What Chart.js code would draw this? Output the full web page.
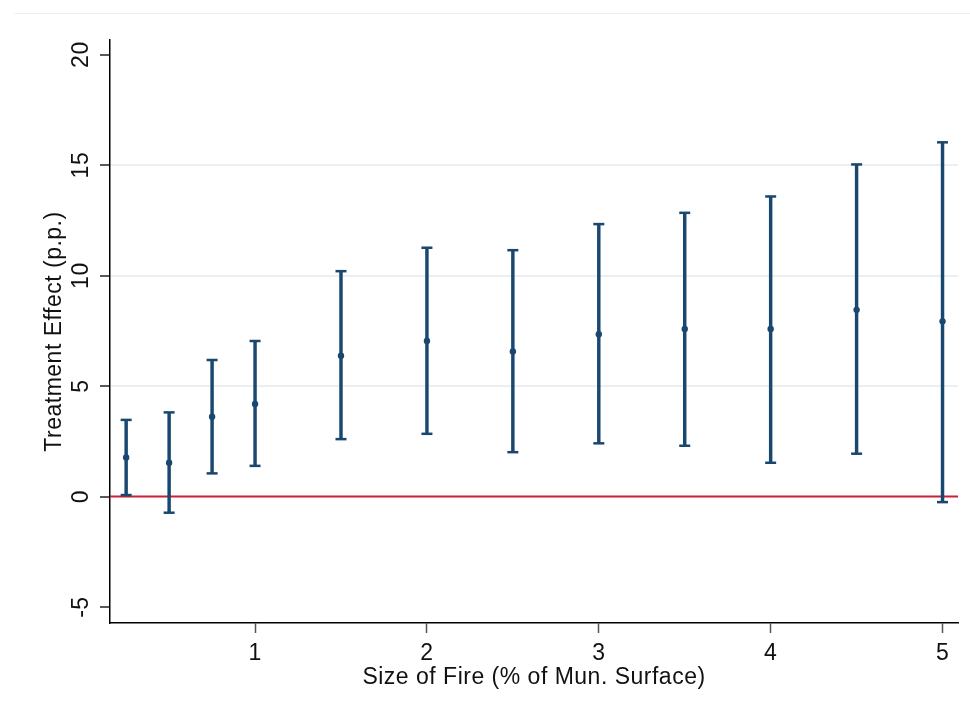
<!DOCTYPE html>
<html>
<head>
<meta charset="utf-8">
<script src="https://cdn.jsdelivr.net/npm/chart.js@4/dist/chart.umd.min.js"></script>
<style>
  html, body { margin: 0; padding: 0; background: #ffffff; }
  #wrap { width: 970px; height: 711px; position: relative; }
</style>
</head>
<body>
<div id="wrap"><canvas id="chart" width="970" height="711"></canvas></div>
<script>
// Fire size (% of municipal surface) and estimated treatment effects with 95% CIs
const sizes    = [0.25, 0.5, 0.75, 1, 1.5, 2, 2.5, 3, 3.5, 4, 4.5, 5];
const estimate = [1.77, 1.53, 3.61, 4.19, 6.37, 7.04, 6.57, 7.35, 7.58, 7.58, 8.45, 7.93];
const ciLower  = [0.07, -0.73, 1.05, 1.39, 2.60, 2.84, 2.01, 2.41, 2.30, 1.53, 1.94, -0.25];
const ciUpper  = [3.47, 3.81, 6.18, 7.04, 10.20, 11.26, 11.15, 12.33, 12.84, 13.58, 15.03, 16.03];

const xTicks = [1, 2, 3, 4, 5];
const yTicks = [-5, 0, 5, 10, 15, 20];
const gridValues = [5, 10, 15];
const xRange = [0.156, 5.09];
const yRange = [-5.72, 20.66];

const NAVY = '#1a476f';
const RED = '#c91f37';
const GRID = '#eaf0f2';
const FONT = '"Liberation Sans", Arial, sans-serif';
const TEXT_SIZE = 23;

// slightly open letter spacing for all chart text
const spacing = {
  id: 'spacing',
  beforeLayout(chart) { chart.ctx.letterSpacing = '0.5px'; },
  beforeDraw(chart) { chart.ctx.letterSpacing = '0.5px'; }
};

// rotated y tick labels and the faint outer frame line
const decor = {
  id: 'decor',
  beforeDraw(chart) {
    const ctx = chart.ctx;
    ctx.save();
    ctx.strokeStyle = '#eef1f2';
    ctx.lineWidth = 1;
    ctx.beginPath();
    ctx.moveTo(14, 13.5);
    ctx.lineTo(970, 13.5);
    ctx.stroke();
    ctx.restore();
  },
  afterDraw(chart) {
    const ctx = chart.ctx;
    const y = chart.scales.y;
    ctx.save();
    ctx.fillStyle = '#111111';
    ctx.font = TEXT_SIZE + 'px ' + FONT;
    ctx.textAlign = 'center';
    ctx.textBaseline = 'middle';
    yTicks.forEach(v => {
      ctx.save();
      ctx.translate(82, y.getPixelForValue(v));
      ctx.rotate(-Math.PI / 2);
      ctx.fillText(String(v), 0, 0);
      ctx.restore();
    });
    ctx.restore();
  }
};

new Chart(document.getElementById('chart'), {
  data: {
    datasets: [
      {
        type: 'line',
        data: [{ x: xRange[0], y: 0 }, { x: xRange[1], y: 0 }],
        borderColor: RED,
        borderWidth: 2,
        pointRadius: 0,
        order: 10
      },
      {
        type: 'bar',
        data: sizes.map((s, i) => ({ x: s, y: [ciLower[i], ciUpper[i]] })),
        backgroundColor: NAVY,
        borderWidth: 0,
        barThickness: 2.8,
        order: 3
      },
      {
        type: 'scatter',
        data: sizes.flatMap((s, i) => [{ x: s, y: ciLower[i] }, { x: s, y: ciUpper[i] }]),
        pointStyle: 'line',
        pointRadius: 5.5,
        borderColor: NAVY,
        borderWidth: 2.5,
        order: 2
      },
      {
        type: 'scatter',
        data: sizes.map((s, i) => ({ x: s, y: estimate[i] })),
        pointRadius: 3.2,
        backgroundColor: NAVY,
        borderWidth: 0,
        order: 1
      }
    ]
  },
  options: {
    responsive: false,
    animation: false,
    devicePixelRatio: 1,
    layout: { padding: { top: 40, right: 12, left: 0, bottom: 0 } },
    plugins: { legend: { display: false }, tooltip: { enabled: false } },
    scales: {
      x: {
        type: 'linear',
        min: xRange[0],
        max: xRange[1],
        offset: false,
        afterBuildTicks: s => { s.ticks = xTicks.map(v => ({ value: v })); },
        afterFit: s => { s.height = 88; },
        border: { color: '#000000', width: 1.5 },
        grid: { display: true, offset: false, drawOnChartArea: false, drawTicks: true, tickLength: 10, tickColor: '#555555', tickWidth: 1.5 },
        ticks: { color: '#111111', font: { family: FONT, size: TEXT_SIZE }, padding: 7, maxRotation: 0 },
        title: {
          display: true,
          text: 'Size of Fire (% of Mun. Surface)',
          color: '#111111',
          font: { family: FONT, size: TEXT_SIZE },
          padding: { top: 0, bottom: 20 }
        }
      },
      y: {
        type: 'linear',
        min: yRange[0],
        max: yRange[1],
        afterBuildTicks: s => { s.ticks = yTicks.map(v => ({ value: v })); },
        afterFit: s => { s.width = 110; },
        border: { color: '#000000', width: 1.5 },
        grid: {
          color: ctx => (ctx.tick && gridValues.includes(ctx.tick.value)) ? GRID : 'rgba(0,0,0,0)',
          lineWidth: 2,
          drawTicks: true,
          tickLength: 10,
          tickColor: '#222222',
          tickWidth: 1.5
        },
        ticks: { display: false },
        title: {
          display: true,
          text: 'Treatment Effect (p.p.)',
          color: '#111111',
          font: { family: FONT, size: TEXT_SIZE },
          padding: { top: 41, bottom: 0 }
        }
      }
    }
  },
  plugins: [spacing, decor]
});
</script>
</body>
</html>
